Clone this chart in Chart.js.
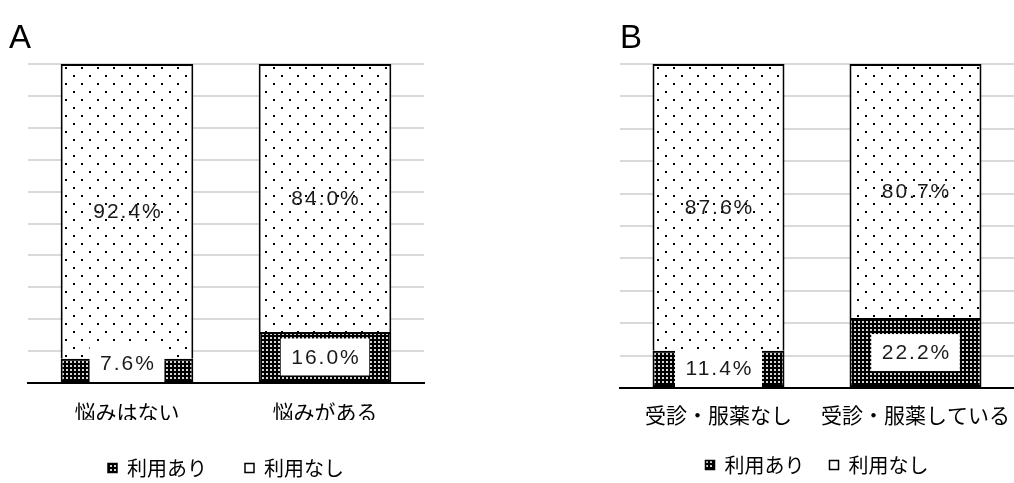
<!DOCTYPE html>
<html>
<head>
<meta charset="utf-8">
<script src="https://cdn.jsdelivr.net/npm/chart.js@4/dist/chart.umd.min.js"></script>
<style>
  html, body { margin: 0; padding: 0; background: #fff; overflow: hidden; }
  #wrap { position: relative; width: 1014px; height: 483px; overflow: hidden; background: #fff; }
  .panel { position: absolute; top: 0; }
  #panelA { left: 0; }
  #panelB { left: 512px; }
</style>
</head>
<body>
<div id="wrap">
  <div class="panel" id="panelA"><canvas id="chartA" width="512" height="488"></canvas></div>
  <div class="panel" id="panelB"><canvas id="chartB" width="502" height="485"></canvas></div>
</div>
<script>
// Series names shared by both panels
const seriesNames = ['利用あり', '利用なし'];

// Panel A: by presence of worries
const categoriesA = ['悩みはない', '悩みがある'];
const usedA = [7.6, 16.0];
const notUsedA = [92.4, 84.0];

// Panel B: by consultation / medication
const categoriesB = ['受診・服薬なし', '受診・服薬している'];
const usedB = [11.4, 22.2];
const notUsedB = [87.6, 80.7];

// Gridline step of the percentage axis
const gridStep = 10;

// 100% stacked: each segment is its share of the bar total
function shareOf(part, a, b) {
  return part.map((v, i) => v / (a[i] + b[i]) * 100);
}

// Fill patterns
function makePattern(size, bg, fg, cells) {
  const c = document.createElement('canvas');
  c.width = size; c.height = size;
  const g = c.getContext('2d');
  g.fillStyle = bg; g.fillRect(0, 0, size, size);
  g.fillStyle = fg;
  cells.forEach(([x, y, w, h]) => g.fillRect(x, y, w, h));
  return g.createPattern(c, 'repeat');
}
function patterns() {
  return {
    dense: makePattern(4, '#000', '#d4d4d4', [[2, 1, 2, 2]]),
    dots: makePattern(16, '#fff', '#000', [[1, 3, 2, 2], [9, 11, 2, 2]])
  };
}

const labelFont = '21px "Liberation Sans", Arial, sans-serif';
const cjkFont = '"Noto Sans CJK JP", "Noto Sans", sans-serif';
const spacing = 2;

// Value labels: white boxes on the "used" segment, plain text on the other
const segmentLabels = {
  id: 'segmentLabels',
  afterDatasetsDraw(chart) {
    const { ctx, chartArea } = chart;
    ctx.save();
    ctx.font = labelFont;
    ctx.letterSpacing = spacing + 'px';
    ctx.textAlign = 'center';
    ctx.textBaseline = 'middle';
    chart.data.datasets.forEach((ds, di) => {
      const meta = chart.getDatasetMeta(di);
      meta.data.forEach((bar, i) => {
        const text = ds.rawValues[i].toFixed(1) + '%';
        const top = Math.min(bar.y, bar.base);
        const bottom = Math.max(bar.y, bar.base);
        let cy = (top + bottom) / 2;
        const w = ctx.measureText(text).width - spacing;
        if (ds.boxed) {
          const bh = 37, bw = w + 21;
          let by = cy - bh / 2;
          const limit = chartArea.bottom - 1;
          if (by + bh > limit) by = limit - bh;
          cy = by + bh / 2;
          ctx.fillStyle = '#fff';
          ctx.fillRect(bar.x - bw / 2, by, bw, bh);
        }
        ctx.fillStyle = '#1a1a1a';
        ctx.fillText(text, bar.x + spacing / 2, cy + 1);
      });
    });
    ctx.restore();
  }
};

// Panel letter in the upper-left corner
const panelTag = {
  id: 'panelTag',
  afterDraw(chart, args, opts) {
    const ctx = chart.ctx;
    ctx.save();
    ctx.font = opts.size + 'px "Liberation Sans", Arial, sans-serif';
    ctx.fillStyle = '#000';
    ctx.textBaseline = 'alphabetic';
    ctx.textAlign = 'left';
    ctx.fillText(opts.text, opts.x, opts.y);
    ctx.restore();
  }
};

function buildChart(id, categories, used, notUsed, cfg) {
  const pat = patterns();
  return new Chart(document.getElementById(id), {
    type: 'bar',
    data: {
      labels: categories,
      datasets: [
        {
          label: seriesNames[0],
          data: shareOf(used, used, notUsed),
          rawValues: used,
          boxed: true,
          backgroundColor: pat.dense,
          legendFill: pat.dense,
          borderColor: '#000',
          borderWidth: 2,
          borderSkipped: false
        },
        {
          label: seriesNames[1],
          data: shareOf(notUsed, used, notUsed),
          rawValues: notUsed,
          boxed: false,
          backgroundColor: pat.dots,
          legendFill: '#fff',
          borderColor: '#000',
          borderWidth: { top: 2, left: 2, right: 2, bottom: 0 },
          borderSkipped: false
        }
      ]
    },
    options: {
      responsive: false,
      animation: false,
      devicePixelRatio: 1,
      layout: { autoPadding: false, padding: { left: cfg.left, right: cfg.right, top: 64, bottom: 0 } },
      datasets: { bar: { barPercentage: 0.67, categoryPercentage: 1 } },
      scales: {
        x: {
          stacked: true,
          grid: { display: false, drawTicks: false },
          border: { display: true, color: '#000', width: 2 },
          ticks: { color: '#000', font: { family: cjkFont, size: 21 }, padding: cfg.tickPad, maxRotation: 0, autoSkip: false },
          afterFit(scale) {
            scale.height = cfg.axisH;
            scale.paddingLeft = 0;
            scale.paddingRight = 0;
          }
        },
        y: {
          stacked: true,
          min: 0,
          max: 100,
          ticks: { display: false, stepSize: gridStep },
          grid: { color: '#d9d9d9', lineWidth: 2, drawTicks: false },
          border: { display: false }
        }
      },
      plugins: {
        legend: {
          position: 'bottom',
          labels: {
            color: '#000',
            font: { family: cjkFont, size: 20 },
            boxWidth: 9,
            boxHeight: 9,
            padding: cfg.legendPad,
            generateLabels(chart) {
              return chart.data.datasets.map((ds, i) => ({
                text: ds.label,
                fillStyle: ds.legendFill,
                strokeStyle: '#000',
                lineWidth: 1.5,
                hidden: false,
                datasetIndex: i
              }));
            }
          },
          onClick: null
        },
        tooltip: { enabled: false },
        panelTag: { text: cfg.tag, x: cfg.tagX, y: 48, size: 33 }
      }
    },
    plugins: [segmentLabels, panelTag]
  });
}

buildChart('chartA', categoriesA, usedA, notUsedA, {
  left: 28, right: 88, tickPad: 16, axisH: 37, legendPad: 38, tag: 'A', tagX: 9
});
buildChart('chartB', categoriesB, usedB, notUsedB, {
  left: 108, right: 0, tickPad: 14, axisH: 42, legendPad: 25, tag: 'B', tagX: 108
});
</script>
</body>
</html>
